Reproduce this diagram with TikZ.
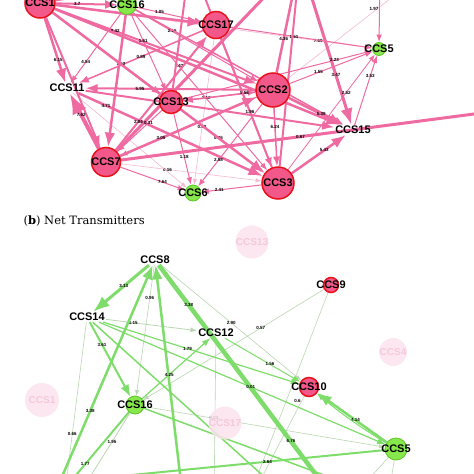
\documentclass[tikz,border=0pt]{standalone}
\usepackage{fontspec}
\usepackage{xcolor}
\usepackage{tikz}
\usetikzlibrary{arrows.meta,backgrounds}
\setmainfont{DejaVu Serif}
\newfontfamily\ccsfont{Liberation Sans}
\definecolor{pinkedge}{HTML}{F06AA2}
\definecolor{pinklight}{HTML}{F6B9D3}
\definecolor{rcvpink}{HTML}{F2588A}
\definecolor{rcvred}{HTML}{E8121C}
\definecolor{trnlight}{HTML}{86E84A}
\definecolor{trngreen}{HTML}{5BC42B}
\definecolor{greenedge}{HTML}{7EDD6A}
\definecolor{greengrey}{HTML}{BAD6B2}
\definecolor{ghostpink}{HTML}{FCE3EF}
\definecolor{ghosttext}{HTML}{F4C2D9}

\begin{document}
\begin{tikzpicture}[x=1pt,y=-1pt,
  recv/.style={circle,draw=rcvred,fill=rcvpink,line width=1.5pt,inner sep=0pt},
  trans/.style={circle,draw=trngreen,fill=trnlight,line width=.8pt,inner sep=0pt},
  tag/.style={font=\ccsfont\bfseries\fontsize{11}{12}\selectfont,inner sep=1pt},
  el/.style={font=\ccsfont\bfseries\fontsize{4.5}{5}\selectfont,inner sep=.5pt},
  pe/.style={draw=pinkedge,-{Latex}},
  pl/.style={draw=pinklight,line width=.6pt,-{Latex}},
  ge/.style={draw=greenedge,-{Latex}},
  gl/.style={draw=greengrey,line width=.6pt,-{Latex}},
  ghost/.style={circle,fill=ghostpink,inner sep=0pt,opacity=.85,text=ghosttext,
    font=\ccsfont\bfseries\fontsize{10}{11}\selectfont}
]
\useasboundingbox (0,0) rectangle (474,474);
\clip (0,0) rectangle (474,474);

% net receivers (top)
\node[recv,minimum size=30pt,label={[tag]center:CCS1}] (a1) at (40,3) {};
\node[trans,minimum size=19pt,label={[tag]center:CCS16}] (a16) at (127,5) {};
\node[recv,minimum size=27pt,label={[tag]center:CCS17}] (a17) at (216,25) {};
\node[recv,minimum size=34pt,label={[tag]center:CCS2}] (a2) at (273,90) {};
\node[trans,minimum size=13pt,label={[tag]center:CCS5}] (a5) at (379,49) {};
\node[tag] (a15) at (353,130) {CCS15};
\node[tag] (a11) at (67,88) {CCS11};
\node[recv,minimum size=23pt,label={[tag]center:CCS13}] (a13) at (171,102) {};
\node[recv,minimum size=29pt,label={[tag]center:CCS7}] (a7) at (106,162) {};
\node[trans,minimum size=16pt,label={[tag]center:CCS6}] (a6) at (193,193) {};
\node[recv,minimum size=32pt,label={[tag]center:CCS3}] (a3) at (278,183) {};
\coordinate (tb) at (300,-40);
\coordinate (tc) at (380,-40);
\coordinate (td) at (190,-40);
\coordinate (te) at (520,108);
\coordinate (tf) at (440,-40);

\node[anchor=west,font=\fontsize{11.5}{14}\selectfont] (cap) at (20,221) {(\textbf{b}) Net Transmitters};

% net transmitters (bottom)
\node[tag] (b8) at (155,260) {CCS8};
\node[tag] (b14) at (87,317) {CCS14};
\node[tag] (b12) at (216,333) {CCS12};
\node[recv,minimum size=15pt,label={[tag]center:CCS9}] (b9) at (331,285) {};
\node[recv,minimum size=19pt,label={[tag]center:CCS10}] (b10) at (309,387) {};
\node[trans,minimum size=18pt,label={[tag]center:CCS16}] (b16) at (135,405) {};
\node[trans,minimum size=22pt,label={[tag]center:CCS5}] (b5) at (396,449) {};
\coordinate (ba) at (52,500);
\coordinate (bb) at (183,500);
\coordinate (bc) at (335,500);
\coordinate (bd) at (248,500);
\coordinate (bf) at (40,484);
\coordinate (bg) at (55,500);
\coordinate (bh) at (85,485);
\coordinate (bi) at (64,500);
\coordinate (bj) at (250,500);
\coordinate (bk) at (214,500);
\coordinate (bl) at (388,500);
\coordinate (bm) at (350,500);
\coordinate (bn) at (290,500);
\coordinate (bq) at (340,481);

\begin{scope}[on background layer]
\clip (0,0) rectangle (474,474);
\fill[white] (0,0) rectangle (474,474);
\draw[pl] (a1) -- node[el,pos=.83]{7.69} (a5);
\draw[pl] (a7) -- node[el,pos=.33]{0.16} (a3);
\draw[pl] (a17) -- node[el,pos=.6]{0.59} (a6);
\draw[pl] (a11) -- (a6);
\draw[pl] (a13) -- node[el,pos=.45]{0.86} (a3);
\draw[pl] (a2) -- (tf);
\draw[pe,line width=2] (a1) -- node[el,pos=.35]{3.7} (a16);
\draw[pe,line width=2.5] (a1) -- node[el,pos=.65]{6.15} (a11);
\draw[pe,line width=2] (a1) -- (a7);
\draw[pe,line width=4] (a7) -- node[el,pos=.6]{7.62} (a11);
\draw[pe,line width=2] (a2) -- node[el,pos=.68]{5.95} (a11);
\draw[pe,line width=1.5] (a17) -- node[el,pos=.5]{0.89} (a11);
\draw[pe,line width=1] (a16) -- node[el,pos=.7]{4.54} (a11);
\draw[pe,line width=2.5] (a11) -- node[el,pos=.15]{4.71} (a3);
\draw[pe,line width=2] (a11) -- (a15);
\draw[pe,line width=2] (a1) -- node[el,pos=.3]{0.42} (a2);
\draw[pe,line width=2.5] (a1) -- (a17);
\draw[pe,line width=1.5] (a1) -- node[el,pos=.63]{1.52} (a13);
\draw[pe,line width=2.5] (a1) -- (a3);
\draw[pe,line width=2.5] (a1) -- (a15);
\draw[pe,line width=2] (a1) -- (tb);
\draw[pe,line width=1] (a16) -- node[el,pos=.35]{1.05} (a17);
\draw[pe,line width=1] (a16) -- node[el,pos=.35]{1.61} (a13);
\draw[pe,line width=2.5] (a16) -- (a7);
\draw[pe,line width=1] (a16) -- node[el,pos=.3]{2.16} (a2);
\draw[pe,line width=1] (a16) -- node[el,pos=.34]{7.42} (a3);
\draw[pe,line width=1.5] (a16) -- (a15);
\draw[pe,line width=3] (tb) -- node[el,pos=.7]{3.47} (a15);
\draw[pe,line width=2.5] (a2) -- node[el,pos=.6]{5.39} (a15);
\draw[pe,line width=2.5] (a3) -- node[el,pos=.6]{5.43} (a15);
\draw[pe,line width=1] (a15) -- node[el,pos=.7]{3.53} (a5);
\draw[pe,line width=.8] (a3) -- node[el,pos=.67]{2.52} (a5);
\draw[pe,line width=1] (a2) -- node[el,pos=.35]{1.55} (a5);
\draw[pe,line width=1] (a13) -- node[el,pos=.8]{2.23} (a5);
\draw[pe,line width=1] (a17) -- node[el,pos=.45]{1.51} (a5);
\draw[pe,line width=1] (tc) -- node[el,pos=.6,left]{1.97} (a5);
\draw[pe,line width=2.5] (a2) -- node[el,pos=.3]{4.36} (tb);
\draw[pe,line width=3] (a7) -- (tb);
\draw[pe,line width=2] (a3) -- (tb);
\draw[pe,line width=2] (a13) -- (td);
\draw[pe,line width=2] (a3) -- (td);
\draw[pe,line width=1] (a13) -- node[el,pos=.6]{1.18} (a6);
\draw[pe,line width=1] (a7) -- node[el,pos=.65]{7.64} (a6);
\draw[pe,line width=1] (a3) -- node[el,pos=.7]{2.41} (a6);
\draw[pe,line width=1] (a2) -- node[el,pos=.68]{2.58} (a6);
\draw[pe,line width=3] (a7) -- node[el,pos=.45]{0.67} (te);
\draw[pe,line width=2] (a7) -- node[el,pos=.25]{2.84} (a17);
\draw[pe,line width=2.5] (a7) -- (a2);
\draw[pe,line width=1] (a2) -- node[el,pos=.7]{3.05} (a7);
\draw[pe,line width=1] (a13) -- node[el,pos=.3]{0.31} (a7);
\draw[pe,line width=1] (a13) -- node[el,pos=.32]{1.12} (a2);
\draw[pe,line width=1.5] (a2) -- node[el,pos=.15]{5.56} (a13);
\draw[pe,line width=1.5] (a17) -- node[el,pos=.57]{1.96} (a3);
\draw[pe,line width=1.5] (a2) -- node[el,pos=.33]{6.24} (a3);

\draw[gl] (b8) -- node[el,pos=.25]{0.96} (b16);
\draw[gl] (b8) -- node[el,pos=.5]{2.90} (b10);
\draw[gl,line width=.8] (b14) -- node[el,pos=.3]{1.15} (b12);
\draw[gl] (b9) -- node[el,pos=.35]{0.57} (b16);
\draw[gl] (b9) -- (bd);
\draw[gl] (b16) -- node[el,pos=.29]{0.83} (b5);
\draw[gl,line width=.8] (b16) -- node[el,pos=.4]{1.95} (bh);
\draw[gl] (b14) -- node[el,pos=.63]{0.66} (bi);
\draw[gl] (b10) -- node[el,pos=.05,left]{0.6} (bj);
\draw[gl] (b12) -- (bk);
\draw[gl] (b5) -- (bl);
\draw[gl] (b5) -- (bm);
\draw[ge,line width=3] (b8) -- node[el,pos=.45]{3.13} (b14);
\draw[ge,line width=2.5] (ba) -- node[el,pos=.38]{3.38} (b8);
\draw[ge,line width=2.5] (bb) -- (b8);
\draw[ge,line width=4.5] (b8) -- node[el,pos=.17]{3.38} node[el,pos=.75]{6.76} (bc);
\draw[ge,line width=2] (b14) -- node[el,pos=.3]{3.61} (b16);
\draw[ge,line width=1.2] (b14) -- node[el,pos=.43]{1.79} (b10);
\draw[ge,line width=1.2] (b14) -- node[el,pos=.53]{0.01} (b5);
\draw[ge,line width=1.5] (b14) -- (bn);
\draw[ge,line width=1.5] (b16) -- (bq);
\draw[ge,line width=2.5] (b5) -- node[el,pos=.45]{4.14} (b10);
\draw[ge,line width=1] (b5) to[bend left=4] (b10);
\draw[ge,line width=1] (b12) -- node[el,pos=.6]{1.56} (b10);
\draw[ge,line width=1.2] (b16) -- node[el,pos=.4]{4.25} (b12);
\draw[ge,line width=2] (b5) -- node[el,pos=.34]{2.64} (bf);
\draw[ge,line width=2] (b16) -- node[el,pos=.59]{1.77} (bg);
\end{scope}

% faded nodes
\node[ghost,minimum size=26pt] (g13) at (252,242) {CCS13};
\node[ghost,minimum size=28pt] (g4) at (393,352) {CCS4};
\node[ghost,minimum size=34pt] (g1) at (42,400) {CCS1};
\node[ghost,minimum size=26pt] (g17) at (225,423) {CCS17};
\end{tikzpicture}
\end{document}
